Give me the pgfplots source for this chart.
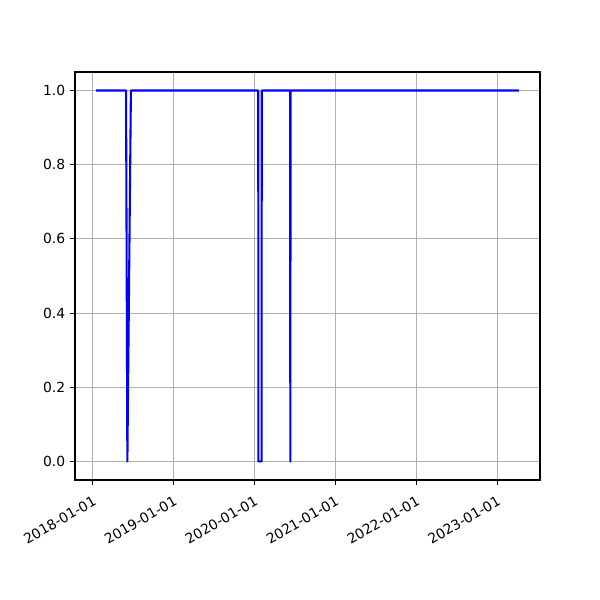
\documentclass[border=0pt]{standalone}
\usepackage{pgfplots}
\pgfplotsset{compat=1.18}
\usepackage{fontspec}
\setmainfont{DejaVu Sans}
\begin{document}
\begin{tikzpicture}
\fontsize{10bp}{12bp}\selectfont
\begin{axis}[
  scale only axis,
  width=334.8bp, height=293.76bp,
  xmin=-80.5, xmax=2019.5,
  ymin=-0.05, ymax=1.05,
  xtick={0,365,730,1096,1461,1826},
  xticklabels={2018-01-01,2019-01-01,2020-01-01,2021-01-01,2022-01-01,2023-01-01},
  ytick={0,0.2,0.4,0.6,0.8,1.0},
  yticklabel style={/pgf/number format/.cd,fixed,fixed zerofill,precision=1},
  /pgf/number format/assume math mode=true,
  xticklabel style={rotate=30, anchor=north east, inner sep=1bp, xshift=-3bp, yshift=-5bp},
  tick align=outside,
  major tick length=3.5bp,
  tick style={black, line width=0.8bp},
  xtick pos=bottom, ytick pos=left,
  axis line style={black, line width=0.8bp},
  grid=major,
  major grid style={color={rgb,255:red,176;green,176;blue,176}, line width=0.8bp},
  tick label style={font=\fontsize{10bp}{12bp}\selectfont},
]
\addplot[color=blue, line width=1.5bp, line join=round] coordinates {
(15,1) (150,1) (156,0) (172,1) (747,1) (748,0) (762,0) (763,1)
(891,1) (892,0) (893,1) (1924,1)
};
\end{axis}
\path (current axis.south west) ++(-54bp,-86.4bp) coordinate (bl);
\path (current axis.north east) ++(43.2bp,51.84bp) coordinate (tr);
\useasboundingbox (bl) rectangle (tr);
\end{tikzpicture}
\end{document}
